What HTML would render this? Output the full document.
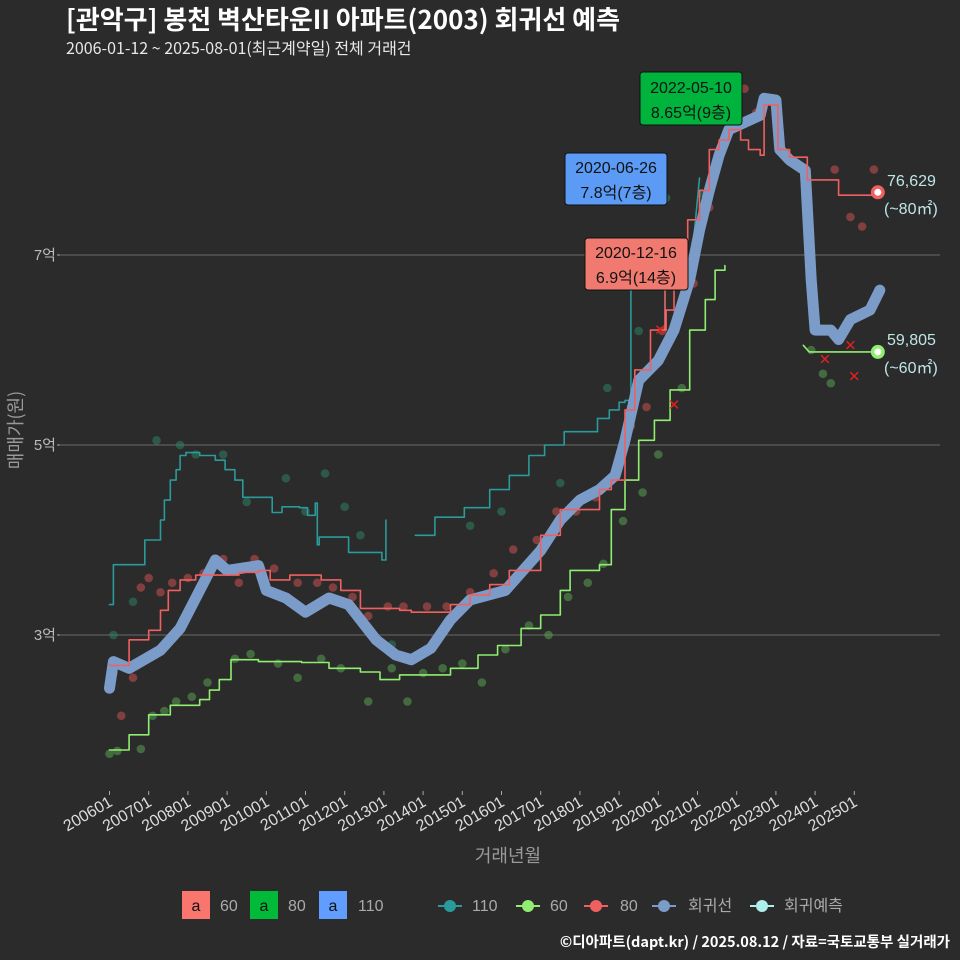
<!DOCTYPE html>
<html><head><meta charset="utf-8">
<style>
body{margin:0;background:#2b2b2b;}
svg{display:block;font-family:"Liberation Sans","Noto Sans CJK KR",sans-serif;}
</style></head><body>
<svg id="c" width="960" height="960" viewBox="0 0 960 960" xmlns="http://www.w3.org/2000/svg">
<rect width="960" height="960" fill="#2b2b2b"/>
<text x="66" y="29" font-size="26" font-weight="bold" fill="#ffffff" font-family="'Noto Sans CJK KR',sans-serif">[관악구] 봉천 벽산타운II 아파트(2003) 회귀선 예측</text>
<text x="66" y="54" font-size="16" fill="#e8e8e8" font-family="'Noto Sans CJK KR',sans-serif">2006-01-12 ~ 2025-08-01(최근계약일) 전체 거래건</text>
<g id="grid"></g>
<g id="yticks"></g>
<g id="xticks"></g>
<text transform="translate(22,430) rotate(-90)" text-anchor="middle" font-size="18" fill="#9a9a9a" font-family="'Noto Sans CJK KR',sans-serif">매매가(원)</text>
<text x="508" y="862" text-anchor="middle" font-size="18" fill="#9a9a9a" font-family="'Noto Sans CJK KR',sans-serif">거래년월</text>
<g id="dots"></g>
<g id="lines"></g>
<g id="marks"></g>
<g>
<rect x="640" y="72" width="102" height="53" rx="3" fill="#00b33c" stroke="#111"/>
<text x="691" y="93" text-anchor="middle" font-size="16" fill="#111">2022-05-10</text>
<text x="691" y="118" text-anchor="middle" font-size="16" fill="#111" font-family="'Liberation Sans','Noto Sans CJK KR',sans-serif">8.65억(9층)</text>
</g>
<g>
<rect x="565" y="153" width="102" height="52" rx="3" fill="#5b9bf5" stroke="#111"/>
<text x="616" y="173" text-anchor="middle" font-size="16" fill="#111">2020-06-26</text>
<text x="616" y="198" text-anchor="middle" font-size="16" fill="#111" font-family="'Liberation Sans','Noto Sans CJK KR',sans-serif">7.8억(7층)</text>
</g>
<g>
<line x1="665" y1="290" x2="665" y2="330" stroke="#f07070" stroke-width="1.5"/>
<rect x="585" y="238" width="103" height="52" rx="3" fill="#f07a70" stroke="#111"/>
<text x="636" y="258" text-anchor="middle" font-size="16" fill="#111">2020-12-16</text>
<text x="636" y="283" text-anchor="middle" font-size="16" fill="#111" font-family="'Liberation Sans','Noto Sans CJK KR',sans-serif">6.9억(14층)</text>
</g>
<g font-size="16" fill="#bfe6e6" font-family="'Liberation Sans','Noto Sans CJK KR',sans-serif">
<text x="887" y="186">76,629</text>
<text x="884" y="214">(~80㎡)</text>
<text x="887" y="345">59,805</text>
<text x="884" y="373">(~60㎡)</text>
</g>
<g font-size="16" fill="#aaaaaa" font-family="'Liberation Sans','Noto Sans CJK KR',sans-serif">
<g><rect x="182" y="891" width="28" height="28" fill="#f8766d"/><text x="196" y="911" text-anchor="middle" fill="#111">a</text><text x="220" y="911">60</text></g>
<g><rect x="250" y="891" width="28" height="28" fill="#00ba38"/><text x="264" y="911" text-anchor="middle" fill="#111">a</text><text x="288" y="911">80</text></g>
<g><rect x="319" y="891" width="28" height="28" fill="#619cff"/><text x="333" y="911" text-anchor="middle" fill="#111">a</text><text x="358" y="911">110</text></g>
<g><line x1="438" y1="906" x2="462" y2="906" stroke="#2a9a9a" stroke-width="2"/><circle cx="450" cy="906" r="6" fill="#2a9a9a"/><text x="472" y="911">110</text></g>
<g><line x1="516" y1="906" x2="540" y2="906" stroke="#90ee70" stroke-width="2"/><circle cx="528" cy="906" r="6" fill="#90ee70"/><text x="550" y="911">60</text></g>
<g><line x1="584" y1="906" x2="608" y2="906" stroke="#f06060" stroke-width="2"/><circle cx="596" cy="906" r="6" fill="#f06060"/><text x="620" y="911">80</text></g>
<g><line x1="652" y1="906" x2="676" y2="906" stroke="#7b9cc8" stroke-width="2"/><circle cx="664" cy="906" r="6" fill="#7b9cc8"/><text x="688" y="911">회귀선</text></g>
<g><line x1="750" y1="906" x2="774" y2="906" stroke="#b0eeee" stroke-width="2"/><circle cx="762" cy="906" r="6" fill="#b0eeee"/><text x="784" y="911">회귀예측</text></g>
</g>
<text x="950" y="947" text-anchor="end" font-size="14.5" font-weight="bold" fill="#ffffff" font-family="'Noto Sans CJK KR',sans-serif">©디아파트(dapt.kr) / 2025.08.12 / 자료=국토교통부 실거래가</text>
</svg>
<script>
const yTickValues=[3,5,7];
const yTickLabels=["3억","5억","7억"];
const xTickYears=[2006,2007,2008,2009,2010,2011,2012,2013,2014,2015,2016,2017,2018,2019,2020,2021,2022,2023,2024,2025];
const xTickLabels=["200601","200701","200801","200901","201001","201101","201201","201301","201401","201501","201601","201701","201801","201901","202001","202101","202201","202301","202401","202501"];
const regT=[2006.0,2006.1,2006.5,2007.3,2007.8,2008.3,2008.7,2009.0,2009.8,2010.0,2010.5,2011.0,2011.6,2012.1,2012.8,2013.3,2013.7,2014.2,2014.7,2015.2,2016.1,2017.0,2017.5,2018.0,2018.5,2018.9,2019.15,2019.5,2020.0,2020.4,2020.8,2021.05,2021.3,2021.55,2021.8,2022.6,2022.7,2023.0,2023.1,2023.35,2023.75,2023.9,2024.0,2024.4,2024.6,2024.9,2025.4,2025.65];
const regV=[2.44,2.72,2.65,2.84,3.07,3.47,3.79,3.68,3.73,3.47,3.39,3.24,3.39,3.32,2.95,2.79,2.74,2.86,3.16,3.37,3.47,3.89,4.21,4.42,4.53,4.68,5.05,5.68,5.89,6.21,6.74,7.26,7.68,8.05,8.32,8.47,8.65,8.63,8.11,8.0,7.89,6.74,6.21,6.21,6.11,6.32,6.42,6.63];
const s80T=[2006.0,2006.4,2006.5,2007.0,2007.3,2007.5,2007.8,2008.2,2008.8,2009.3,2009.8,2010.1,2010.6,2011.4,2011.9,2012.4,2013.4,2013.7,2014.7,2015.2,2015.7,2016.2,2017.0,2017.5,2018.1,2018.5,2018.8,2019.15,2019.4,2019.8,2020.2,2020.4,2020.75,2021.05,2021.3,2021.55,2021.8,2022.1,2022.3,2022.6,2022.7,2022.9,2023.05,2023.35,2023.8,2024.6,2025.6];
const s80V=[2.68,2.68,2.95,3.05,3.26,3.47,3.58,3.63,3.63,3.66,3.68,3.58,3.63,3.58,3.47,3.28,3.26,3.24,3.32,3.42,3.53,3.68,4.05,4.32,4.32,4.53,4.63,5.37,5.79,6.21,6.42,6.84,7.37,7.68,8.11,8.21,8.32,8.21,8.11,8.05,8.58,8.58,8.11,8.03,7.79,7.63,7.66];
const s60T=[2006.0,2006.15,2006.5,2007.0,2007.55,2008.3,2008.55,2008.8,2009.1,2009.35,2009.8,2010.9,2011.6,2012.4,2012.9,2013.4,2014.7,2015.4,2015.9,2016.5,2017.0,2017.5,2017.75,2018.0,2018.5,2018.8,2019.15,2019.5,2019.9,2020.3,2020.8,2021.2,2021.45,2021.7];
const s60V=[1.79,1.79,1.95,2.16,2.26,2.32,2.42,2.53,2.74,2.74,2.72,2.71,2.65,2.61,2.53,2.58,2.65,2.79,2.89,3.07,3.21,3.47,3.68,3.68,3.74,4.32,4.63,5.05,5.26,5.58,6.21,6.53,6.84,6.89];
const s60bT=[2023.7,2023.85,2024.25,2025.6];
const s60bV=[6.05,5.98,5.98,5.98];
const s110aT=[2006.0,2006.1,2006.7,2006.9,2007.3,2007.4,2007.55,2007.7,2007.8,2007.95,2008.3,2008.55,2008.7,2008.95,2009.2,2009.4,2010.1,2010.15,2010.4,2010.85,2011.05,2011.25,2011.3,2011.35,2012.0,2012.1,2012.8,2012.95,2013.05];
const s110aV=[3.32,3.74,3.74,4.0,4.21,4.42,4.63,4.74,4.89,4.92,4.89,4.89,4.84,4.74,4.63,4.45,4.45,4.29,4.35,4.34,4.26,4.39,3.95,4.03,4.03,3.87,3.87,3.79,4.21];
const s110bT=[2013.8,2014.2,2014.3,2014.9,2015.05,2015.7,2016.2,2016.7,2017.1,2017.6,2018.0,2018.45,2018.75,2019.0,2019.15,2019.3];
const s110bV=[4.05,4.05,4.24,4.24,4.34,4.53,4.68,4.89,5.0,5.14,5.14,5.28,5.37,5.45,5.47,6.68];
const s110cT=[2020.9,2021.05];
const s110cV=[7.16,7.81];
const dot80T=[2006.1,2006.3,2006.6,2006.8,2007.0,2007.3,2007.6,2008.0,2008.4,2008.9,2009.3,2009.7,2010.2,2010.8,2011.3,2011.7,2012.2,2012.6,2013.1,2013.5,2014.1,2014.6,2015.2,2015.8,2016.3,2016.9,2017.4,2017.9,2018.4,2018.9,2019.3,2019.7,2020.1,2020.5,2020.9,2021.3,2021.7,2022.2,2022.5,2024.5,2024.9,2025.2,2025.5];
const dot80V=[2.6,2.15,2.55,3.5,3.6,3.45,3.55,3.6,3.65,3.8,3.55,3.8,3.7,3.55,3.55,3.5,3.4,3.2,3.3,3.3,3.3,3.3,3.45,3.65,3.9,4.0,4.3,4.3,4.45,4.7,5.2,5.4,6.2,6.4,6.7,7.5,8.2,8.75,8.5,7.9,7.4,7.3,7.9];
const dot60T=[2006.0,2006.2,2006.8,2007.1,2007.4,2007.7,2008.1,2008.5,2009.2,2009.6,2010.3,2010.8,2011.4,2011.9,2012.6,2013.2,2013.6,2014.0,2014.5,2015.0,2015.5,2016.1,2016.7,2017.2,2017.7,2018.2,2018.6,2019.1,2019.6,2020.0,2020.6,2023.9,2024.2,2024.4];
const dot60V=[1.75,1.78,1.8,2.15,2.2,2.3,2.35,2.5,2.75,2.8,2.7,2.55,2.75,2.65,2.3,2.65,2.3,2.6,2.65,2.7,2.5,2.85,3.1,3.0,3.4,3.55,3.75,4.2,4.5,4.9,5.6,6.0,5.75,5.65];
const dot110T=[2006.1,2006.6,2007.2,2007.8,2008.2,2008.9,2009.5,2010.5,2011.0,2011.5,2012.0,2012.4,2013.2,2015.2,2016.0,2017.5,2018.7,2019.5,2020.2,2021.1];
const dot110V=[3.0,3.35,5.05,5.0,4.9,4.9,4.4,4.65,4.3,4.7,4.35,4.05,2.9,4.15,4.3,4.6,5.6,6.2,7.6,7.65];

const NS="http://www.w3.org/2000/svg";
const X=t=>109.5+(t-2006)*39.2;
const Y=v=>635-(v-3)*95;
function mk(tag,parent,attrs){const e=document.createElementNS(NS,tag);for(const k in attrs)e.setAttribute(k,attrs[k]);parent.appendChild(e);return e;}
const grid=document.getElementById('grid'),yt=document.getElementById('yticks'),xt=document.getElementById('xticks');
yTickValues.forEach((v,i)=>{
  const l=mk('line',grid,{x1:60,x2:940,y1:Y(v),y2:Y(v),stroke:'#6a6a6a','stroke-width':1});
  
  
  const t=mk('text',yt,{x:56,y:Y(v)+5,'text-anchor':'end','font-size':15,fill:'#bbbbbb'});
  
  
  t.textContent=yTickLabels[i];
  mk('line',yt,{x1:57,x2:60,y1:Y(v),y2:Y(v),stroke:'#aaa'});
});
xTickYears.forEach((yr,i)=>{
  const x=X(yr);
  mk('line',xt,{x1:x,x2:x,y1:791,y2:795,stroke:'#aaa'});
  const t=mk('text',xt,{x:x+4,y:805,'text-anchor':'end','font-size':16,fill:'#dddddd',transform:`rotate(-30 ${x+4} 805)`});
  
  
  t.textContent=xTickLabels[i];
});
const dots=document.getElementById('dots');
function drawDots(T,V,col,name){T.forEach((t,i)=>{const c=mk('circle',dots,{cx:X(t),cy:Y(V[i]),r:4.3,fill:col,'fill-opacity':0.55});
  
  });}
drawDots(dot80T,dot80V,'#c85050','scatter-80');
drawDots(dot60T,dot60V,'#5aa050','scatter-60');
drawDots(dot110T,dot110V,'#2f8060','scatter-110');
const lines=document.getElementById('lines');
function pts(T,V){return T.map((t,i)=>X(t).toFixed(1)+','+Y(V[i]).toFixed(1)).join(' ');}
function step(T,V){let a=[];T.forEach((t,i)=>{if(i>0)a.push(X(t).toFixed(1)+','+Y(V[i-1]).toFixed(1));a.push(X(t).toFixed(1)+','+Y(V[i]).toFixed(1));});return a.join(' ');}
function line(p,col,w,name){const e=mk('polyline',lines,{points:p,fill:'none',stroke:col,'stroke-width':w,'stroke-linejoin':'round','stroke-linecap':'round'});
  
  }
line(step(s110aT,s110aV),'#2a9a9a',1.6,'line-110-a');
line(step(s110bT,s110bV),'#2a9a9a',1.6,'line-110-b');
line(pts(s110cT,s110cV),'#2a9a9a',1.6,'line-110-c');
line(step(s60T,s60V),'#90ee70',1.6,'line-60');
line(pts(s60bT,s60bV),'#90ee70',1.6,'line-60-recent');
line(pts(regT,regV),'#7b9cc8',11,'regression-line');
line(step(s80T,s80V),'#f06060',1.6,'line-80');
const marks=document.getElementById('marks');
const xT=[2020.05,2020.4,2024.9,2025.0,2024.25];const xV=[6.21,5.42,6.05,5.72,5.9];
xT.forEach((t,i)=>{const g=mk('text',marks,{x:X(t),y:Y(xV[i])+5,'text-anchor':'middle','font-size':15,fill:'#e02020'});
  
  
  g.textContent='✕';});
[[2025.6,7.66,'#f06060','forecast-point-80'],[2025.6,5.98,'#90ee70','forecast-point-60']].forEach(d=>{
  const c=mk('circle',marks,{cx:X(d[0]),cy:Y(d[1]),r:7,fill:d[2]});
  
  
  mk('circle',marks,{cx:X(d[0]),cy:Y(d[1]),r:3.5,fill:'#fff'});
});
</script>
</body></html>
